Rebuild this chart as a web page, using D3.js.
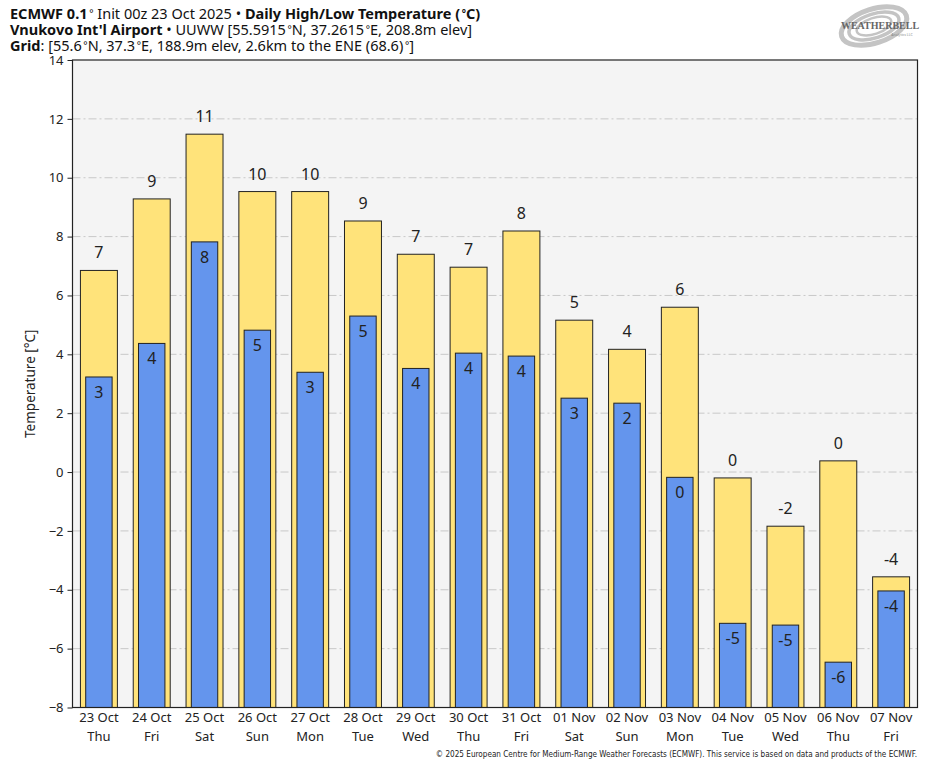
<!DOCTYPE html>
<html>
<head>
<meta charset="utf-8">
<script src="https://cdn.jsdelivr.net/npm/d3@7"></script>
<style>
  body { margin: 0; background: #fff; }
  svg { font-family: "Noto Sans", "Open Sans", sans-serif; }
</style>
</head>
<body>
<script>
// daily data
var dates = ["23 Oct", "24 Oct", "25 Oct", "26 Oct", "27 Oct", "28 Oct", "29 Oct", "30 Oct",
             "31 Oct", "01 Nov", "02 Nov", "03 Nov", "04 Nov", "05 Nov", "06 Nov", "07 Nov"];
var weekdays = ["Thu", "Fri", "Sat", "Sun", "Mon", "Tue", "Wed", "Thu",
                "Fri", "Sat", "Sun", "Mon", "Tue", "Wed", "Thu", "Fri"];
var highs = [6.85, 9.28, 11.48, 9.53, 9.53, 8.53, 7.4, 6.96, 8.19, 5.16, 4.17, 5.6, -0.2, -1.84, 0.38, -3.56];
var lows = [3.23, 4.37, 7.82, 4.82, 3.39, 5.3, 3.52, 4.04, 3.94, 2.51, 2.34, -0.18, -5.14, -5.2, -6.46, -4.04];
var yTicks = [-8, -6, -4, -2, 0, 2, 4, 6, 8, 10, 12, 14];

var W = 935, H = 768;
var m = { left: 72.5, right: 917.5, top: 60, bottom: 707.5 };

var svg = d3.select("body").append("svg")
    .attr("width", W)
    .attr("height", H);

var x = d3.scaleBand()
    .domain(d3.range(dates.length))
    .range([m.left, m.right]);

var y = d3.scaleLinear()
    .domain([-8, 14])
    .range([m.bottom, m.top]);

// plot background
svg.append("rect")
    .attr("x", m.left).attr("y", m.top)
    .attr("width", m.right - m.left).attr("height", m.bottom - m.top)
    .attr("fill", "#f4f4f4");

// grid lines, dash-dot
svg.selectAll("line.grid")
    .data(yTicks.filter(function (d) { return d > -8 && d < 14; }))
    .enter().append("line")
    .attr("class", "grid")
    .attr("x1", m.left).attr("x2", m.right)
    .attr("y1", function (d) { return y(d); })
    .attr("y2", function (d) { return y(d); })
    .attr("stroke", "#c8c8c8")
    .attr("stroke-width", 1)
    .attr("stroke-dasharray", "8,3,2,3");

var bw = x.bandwidth();

// high bars (yellow), from bottom of the plot up to the high
svg.selectAll("rect.high")
    .data(highs)
    .enter().append("rect")
    .attr("class", "high")
    .attr("x", function (d, i) { return x(i) + bw * 0.15; })
    .attr("y", function (d) { return y(d); })
    .attr("width", bw * 0.7)
    .attr("height", function (d) { return y(-8) - y(d); })
    .attr("fill", "#ffe37a")
    .attr("stroke", "#222")
    .attr("stroke-width", 1);

// low bars (blue)
svg.selectAll("rect.low")
    .data(lows)
    .enter().append("rect")
    .attr("class", "low")
    .attr("x", function (d, i) { return x(i) + bw * 0.25; })
    .attr("y", function (d) { return y(d); })
    .attr("width", bw * 0.5)
    .attr("height", function (d) { return y(-8) - y(d); })
    .attr("fill", "#6495ed")
    .attr("stroke", "#222")
    .attr("stroke-width", 1);

function fmt(v) {
  var r = Math.round(v);
  return (r === 0 ? 0 : r).toString();
}

// value labels
svg.selectAll("text.hl")
    .data(highs)
    .enter().append("text")
    .attr("class", "hl")
    .attr("x", function (d, i) { return x(i) + bw / 2; })
    .attr("y", function (d) { return y(d) - 12; })
    .attr("text-anchor", "middle")
    .attr("font-size", 16)
    .attr("fill", "#222")
    .text(fmt);

svg.selectAll("text.ll")
    .data(lows)
    .enter().append("text")
    .attr("class", "ll")
    .attr("x", function (d, i) { return x(i) + bw / 2; })
    .attr("y", function (d) { return y(d) + 21; })
    .attr("text-anchor", "middle")
    .attr("font-size", 16)
    .attr("fill", "#222")
    .text(fmt);

// frame
svg.append("rect")
    .attr("x", m.left).attr("y", m.top)
    .attr("width", m.right - m.left).attr("height", m.bottom - m.top)
    .attr("fill", "none")
    .attr("stroke", "#222")
    .attr("stroke-width", 1.2);

// y axis
var yAxis = svg.append("g")
    .attr("transform", "translate(" + m.left + ",0)")
    .call(d3.axisLeft(y).tickValues(yTicks).tickSize(5).tickPadding(4));
yAxis.select(".domain").remove();
yAxis.selectAll("line").attr("stroke", "#222");
yAxis.selectAll("text")
    .attr("font-size", 13)
    .attr("fill", "#222")
    .attr("font-family", "Noto Sans, sans-serif");

svg.append("text")
    .attr("transform", "translate(35," + ((m.top + m.bottom) / 2) + ") rotate(-90)")
    .attr("text-anchor", "middle")
    .attr("font-size", 13.5)
    .attr("fill", "#222")
    .text("Temperature [°C]");

// x axis: date and weekday
var xAxis = svg.append("g")
    .attr("transform", "translate(0," + m.bottom + ")")
    .call(d3.axisBottom(x).tickSize(0).tickFormat(function (i) { return dates[i]; }).tickPadding(5));
xAxis.select(".domain").remove();
xAxis.selectAll("text")
    .attr("font-size", 13)
    .attr("fill", "#222")
    .attr("font-family", "Noto Sans, sans-serif");

svg.selectAll("text.wd")
    .data(weekdays)
    .enter().append("text")
    .attr("class", "wd")
    .attr("x", function (d, i) { return x(i) + bw / 2; })
    .attr("y", m.bottom + 33)
    .attr("text-anchor", "middle")
    .attr("font-size", 13)
    .attr("fill", "#222")
    .text(function (d) { return d; });

// title block: [text, bold, superscript]
var titleLines = [
  [["ECMWF 0.1", true], ["°", false, true], [" Init 00z 23 Oct 2025 • ", false], ["Daily High/Low Temperature (", true], ["°", true, true], ["C)", true]],
  [["Vnukovo Int'l Airport", true], [" • UUWW [55.5915", false], ["°", false, true], ["N, 37.2615", false], ["°", false, true], ["E, 208.8m elev]", false]],
  [["Grid", true], [": [55.6", false], ["°", false, true], ["N, 37.3", false], ["°", false, true], ["E, 188.9m elev, 2.6km to the ENE (68.6)", false], ["°", false, true], ["]", false]]
];
titleLines.forEach(function (line, li) {
  var t = svg.append("text")
      .attr("x", 10)
      .attr("y", 19 + li * 16)
      .attr("font-size", 14.5)
      .attr("fill", "#111");
  line.forEach(function (p) {
    var s = t.append("tspan")
      .attr("font-weight", p[1] ? "bold" : "normal")
      .text(p[2] ? "\u2009" + p[0] : p[0]);
    if (p[2]) s.attr("font-size", 10).attr("baseline-shift", "2");
  });
});

// logo (rough sketch)
var logo = svg.append("g").attr("transform", "translate(874,26)");
[[34, 17, -18, 5], [26, 12, -18, 3.5], [18, 8, -18, 2.5]].forEach(function (e) {
  logo.append("ellipse")
    .attr("rx", e[0]).attr("ry", e[1])
    .attr("transform", "rotate(" + e[2] + ")")
    .attr("fill", "none")
    .attr("stroke", "#c4c4c4")
    .attr("stroke-width", e[3]);
});
logo.append("text")
    .attr("x", 6).attr("y", 3)
    .attr("text-anchor", "middle")
    .attr("font-family", "Liberation Serif, serif")
    .attr("font-weight", "bold")
    .attr("font-size", 10)
    .attr("fill", "#666")
    .text("WEATHERBELL");
logo.append("text")
    .attr("x", 28).attr("y", 10)
    .attr("text-anchor", "middle")
    .attr("font-size", 3.5)
    .attr("fill", "#888")
    .text("Analytics LLC");

// footer
svg.append("text")
    .attr("x", 917)
    .attr("y", 757)
    .attr("text-anchor", "end")
    .attr("font-size", 8.1)
    .attr("font-family", "DejaVu Sans Condensed, Liberation Sans Narrow, sans-serif")
    .attr("fill", "#222")
    .text("© 2025 European Centre for Medium-Range Weather Forecasts (ECMWF). This service is based on data and products of the ECMWF.");
</script>
</body>
</html>
